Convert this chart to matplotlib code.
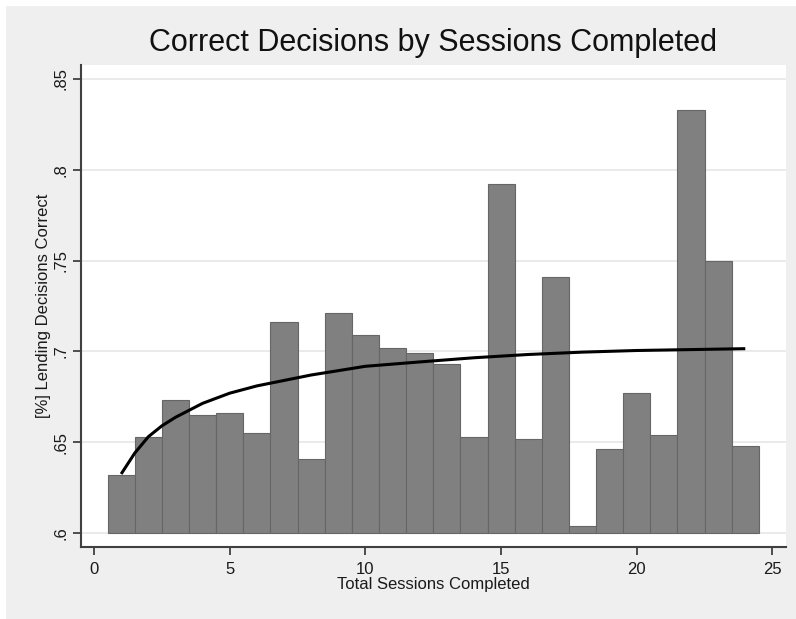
import matplotlib
matplotlib.use("Agg")
import matplotlib.pyplot as plt
from matplotlib.patches import Rectangle

plt.rcParams['font.family'] = ['Liberation Sans', 'DejaVu Sans']

sessions = list(range(1, 25))
pct_correct = [0.632, 0.653, 0.673, 0.665, 0.666, 0.655, 0.716, 0.641,
               0.721, 0.709, 0.702, 0.699, 0.693, 0.653, 0.792, 0.652,
               0.741, 0.604, 0.646, 0.677, 0.654, 0.833, 0.750, 0.648]

fit_x = [1, 1.5, 2, 2.5, 3, 4, 5, 6, 7, 8, 10, 12, 14, 16, 18, 20, 22, 24]
fit_y = [0.6325, 0.644, 0.653, 0.659, 0.6637, 0.6714, 0.677, 0.681, 0.684,
         0.687, 0.6918, 0.6942, 0.6965, 0.6983, 0.6996, 0.7005, 0.7010, 0.7015]

yticks = [0.6, 0.65, 0.7, 0.75, 0.8, 0.85]
ytick_labels = ['.6', '.65', '.7', '.75', '.8', '.85']
xticks = [0, 5, 10, 15, 20, 25]

W, H = 796, 619
fig = plt.figure(figsize=(W / 100, H / 100), dpi=100, facecolor='white')
fig.patches.append(Rectangle((6 / W, 0), 1 - 6 / W, 1 - 6 / H, transform=fig.transFigure,
                             facecolor='#efefef', edgecolor='none', zorder=-10))

ax = fig.add_axes([81 / W, 1 - 547 / H, (786 - 81) / W, (547 - 65) / H])
ax.set_facecolor('white')

ax.bar(sessions, [v - 0.6 for v in pct_correct], bottom=0.6, width=1.0,
       color='#808080', edgecolor='#666666', linewidth=0.8, zorder=2)
ax.plot(fit_x, fit_y, color='black', linewidth=2.2, zorder=3, solid_capstyle='butt')

ax.set_xlim(-0.48, 25.5)
ax.set_ylim(0.5923, 0.8577)

ax.set_yticks(yticks)
ax.set_yticklabels(ytick_labels, rotation=90, va='center')
ax.set_xticks(xticks)
ax.set_xticklabels([str(x) for x in xticks])

ax.grid(axis='y', color='#e6e6e6', linewidth=1.2, zorder=0)
ax.set_axisbelow(True)

for s in ['top', 'right']:
    ax.spines[s].set_visible(False)
for s in ['left', 'bottom']:
    ax.spines[s].set_color('#404040')
    ax.spines[s].set_linewidth(1.5)

ax.tick_params(axis='both', direction='out', length=6, width=1.3, color='#404040',
               labelsize=12, labelcolor='#1a1a1a')
ax.tick_params(axis='x', pad=5)
ax.tick_params(axis='y', pad=3)

ax.set_xlabel('Total Sessions Completed', fontsize=12, labelpad=0, color='#1a1a1a')
ax.set_ylabel('[%] Lending Decisions Correct', fontsize=12, labelpad=2, color='#1a1a1a')

fig.text(433 / W, 1 - 43 / H, 'Correct Decisions by Sessions Completed',
         ha='center', va='center', fontsize=22, color='#111111')

fig.savefig('out.png', dpi=100, facecolor=fig.get_facecolor())
